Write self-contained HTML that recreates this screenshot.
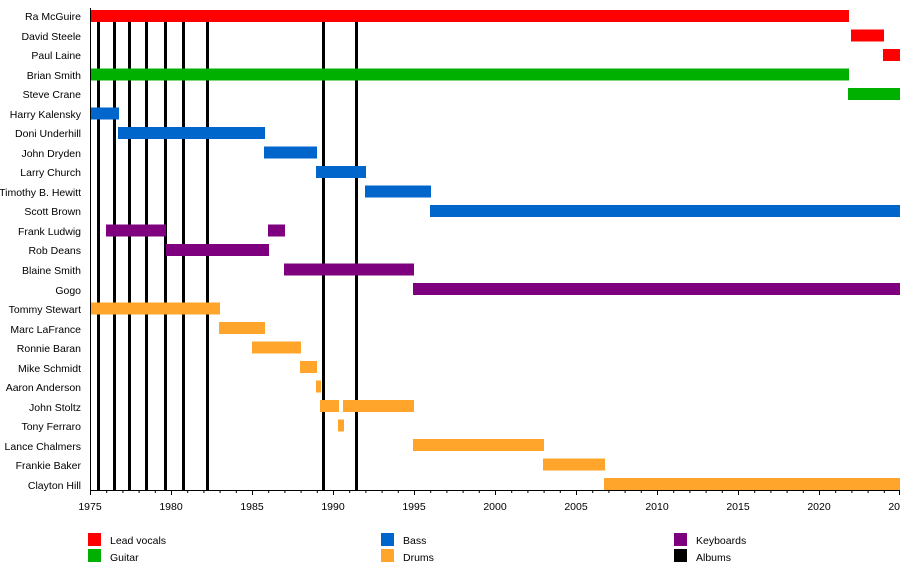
<!DOCTYPE html>
<html><head><meta charset="utf-8"><style>
html,body{margin:0;padding:0;background:#fff;}
svg{display:block;font-family:"Liberation Sans",Arial,sans-serif;font-size:10.5px;}
</style></head><body>
<svg width="900" height="570" viewBox="0 0 900 570" xmlns="http://www.w3.org/2000/svg">
<g text-anchor="end" fill="#000">
<text x="81" y="20">Ra McGuire</text>
<text x="81" y="40">David Steele</text>
<text x="81" y="59">Paul Laine</text>
<text x="81" y="79">Brian Smith</text>
<text x="81" y="98">Steve Crane</text>
<text x="81" y="118">Harry Kalensky</text>
<text x="81" y="137">Doni Underhill</text>
<text x="81" y="157">John Dryden</text>
<text x="81" y="176">Larry Church</text>
<text x="81" y="196">Timothy B. Hewitt</text>
<text x="81" y="215">Scott Brown</text>
<text x="81" y="235">Frank Ludwig</text>
<text x="81" y="254">Rob Deans</text>
<text x="81" y="274">Blaine Smith</text>
<text x="81" y="294">Gogo</text>
<text x="81" y="313">Tommy Stewart</text>
<text x="81" y="333">Marc LaFrance</text>
<text x="81" y="352">Ronnie Baran</text>
<text x="81" y="372">Mike Schmidt</text>
<text x="81" y="391">Aaron Anderson</text>
<text x="81" y="411">John Stoltz</text>
<text x="81" y="430">Tony Ferraro</text>
<text x="81" y="450">Lance Chalmers</text>
<text x="81" y="469">Frankie Baker</text>
<text x="81" y="489">Clayton Hill</text>
</g>
<g stroke="#000" stroke-width="3">
<line x1="98.5" y1="22" x2="98.5" y2="490"/>
<line x1="114.5" y1="22" x2="114.5" y2="490"/>
<line x1="129.5" y1="22" x2="129.5" y2="490"/>
<line x1="146.5" y1="22" x2="146.5" y2="490"/>
<line x1="165.5" y1="22" x2="165.5" y2="490"/>
<line x1="183.5" y1="22" x2="183.5" y2="490"/>
<line x1="207.5" y1="22" x2="207.5" y2="490"/>
<line x1="323.5" y1="22" x2="323.5" y2="490"/>
<line x1="356.5" y1="22" x2="356.5" y2="490"/>
</g>
<g>
<rect x="90" y="10" width="759" height="12" fill="#ff0000"/>
<rect x="851" y="29.5" width="33" height="12" fill="#ff0000"/>
<rect x="883" y="49" width="17" height="12" fill="#ff0000"/>
<rect x="90" y="68.5" width="759" height="12" fill="#00b000"/>
<rect x="848" y="88" width="52" height="12" fill="#00b000"/>
<rect x="90" y="107.5" width="29" height="12" fill="#0066cc"/>
<rect x="118" y="127" width="147" height="12" fill="#0066cc"/>
<rect x="264" y="146.5" width="53" height="12" fill="#0066cc"/>
<rect x="316" y="166" width="50" height="12" fill="#0066cc"/>
<rect x="365" y="185.5" width="66" height="12" fill="#0066cc"/>
<rect x="430" y="205" width="470" height="12" fill="#0066cc"/>
<rect x="106" y="224.5" width="60" height="12" fill="#7f007f"/>
<rect x="268" y="224.5" width="17" height="12" fill="#7f007f"/>
<rect x="166" y="244" width="103" height="12" fill="#7f007f"/>
<rect x="284" y="263.5" width="130" height="12" fill="#7f007f"/>
<rect x="413" y="283" width="487" height="12" fill="#7f007f"/>
<rect x="90" y="302.5" width="130" height="12" fill="#ffa52c"/>
<rect x="219" y="322" width="46" height="12" fill="#ffa52c"/>
<rect x="252" y="341.5" width="49" height="12" fill="#ffa52c"/>
<rect x="300" y="361" width="17" height="12" fill="#ffa52c"/>
<rect x="316" y="380.5" width="5" height="12" fill="#ffa52c"/>
<rect x="320" y="400" width="19" height="12" fill="#ffa52c"/>
<rect x="343" y="400" width="71" height="12" fill="#ffa52c"/>
<rect x="338" y="419.5" width="6" height="12" fill="#ffa52c"/>
<rect x="413" y="439" width="131" height="12" fill="#ffa52c"/>
<rect x="543" y="458.5" width="62" height="12" fill="#ffa52c"/>
<rect x="604" y="478" width="296" height="12" fill="#ffa52c"/>
</g>
<g stroke="#000" stroke-width="1">
<line x1="90.5" y1="8" x2="90.5" y2="490"/>
<line x1="90" y1="490.5" x2="900" y2="490.5"/>
</g>
<g stroke="#000" stroke-width="1">
<path d="M90.5 490v5M171.5 490v5M252.5 490v5M333.5 490v5M414.5 490v5M495.5 490v5M576.5 490v5M657.5 490v5M738.5 490v5M819.5 490v5M899.5 490v5"/>
<path d="M106.7 490v3M122.9 490v3M139.1 490v3M155.3 490v3M187.7 490v3M203.9 490v3M220.1 490v3M236.3 490v3M268.7 490v3M284.9 490v3M301.1 490v3M317.3 490v3M349.7 490v3M365.9 490v3M382.1 490v3M398.3 490v3M430.7 490v3M446.9 490v3M463.1 490v3M479.3 490v3M511.7 490v3M527.9 490v3M544.1 490v3M560.3 490v3M592.7 490v3M608.9 490v3M625.1 490v3M641.3 490v3M673.7 490v3M689.9 490v3M706.1 490v3M722.3 490v3M754.7 490v3M770.9 490v3M787.1 490v3M803.3 490v3M835.7 490v3M851.9 490v3M868.1 490v3M884.3 490v3"/>
</g>
<g text-anchor="middle">
<text x="90" y="510">1975</text>
<text x="171" y="510">1980</text>
<text x="252" y="510">1985</text>
<text x="333" y="510">1990</text>
<text x="414" y="510">1995</text>
<text x="495" y="510">2000</text>
<text x="576" y="510">2005</text>
<text x="657" y="510">2010</text>
<text x="738" y="510">2015</text>
<text x="819" y="510">2020</text>
<text x="900" y="510">2025</text>
</g>
<rect x="88" y="533" width="13" height="13" fill="#ff0000"/>
<rect x="88" y="549" width="13" height="13" fill="#00b000"/>
<rect x="381" y="533" width="13" height="13" fill="#0066cc"/>
<rect x="381" y="549" width="13" height="13" fill="#ffa52c"/>
<rect x="674" y="533" width="13" height="13" fill="#7f007f"/>
<rect x="674" y="549" width="13" height="13" fill="#000"/>
<text x="110" y="544">Lead vocals</text>
<text x="110" y="561">Guitar</text>
<text x="403" y="544">Bass</text>
<text x="403" y="561">Drums</text>
<text x="696" y="544">Keyboards</text>
<text x="696" y="561">Albums</text>
</svg>
</body></html>
